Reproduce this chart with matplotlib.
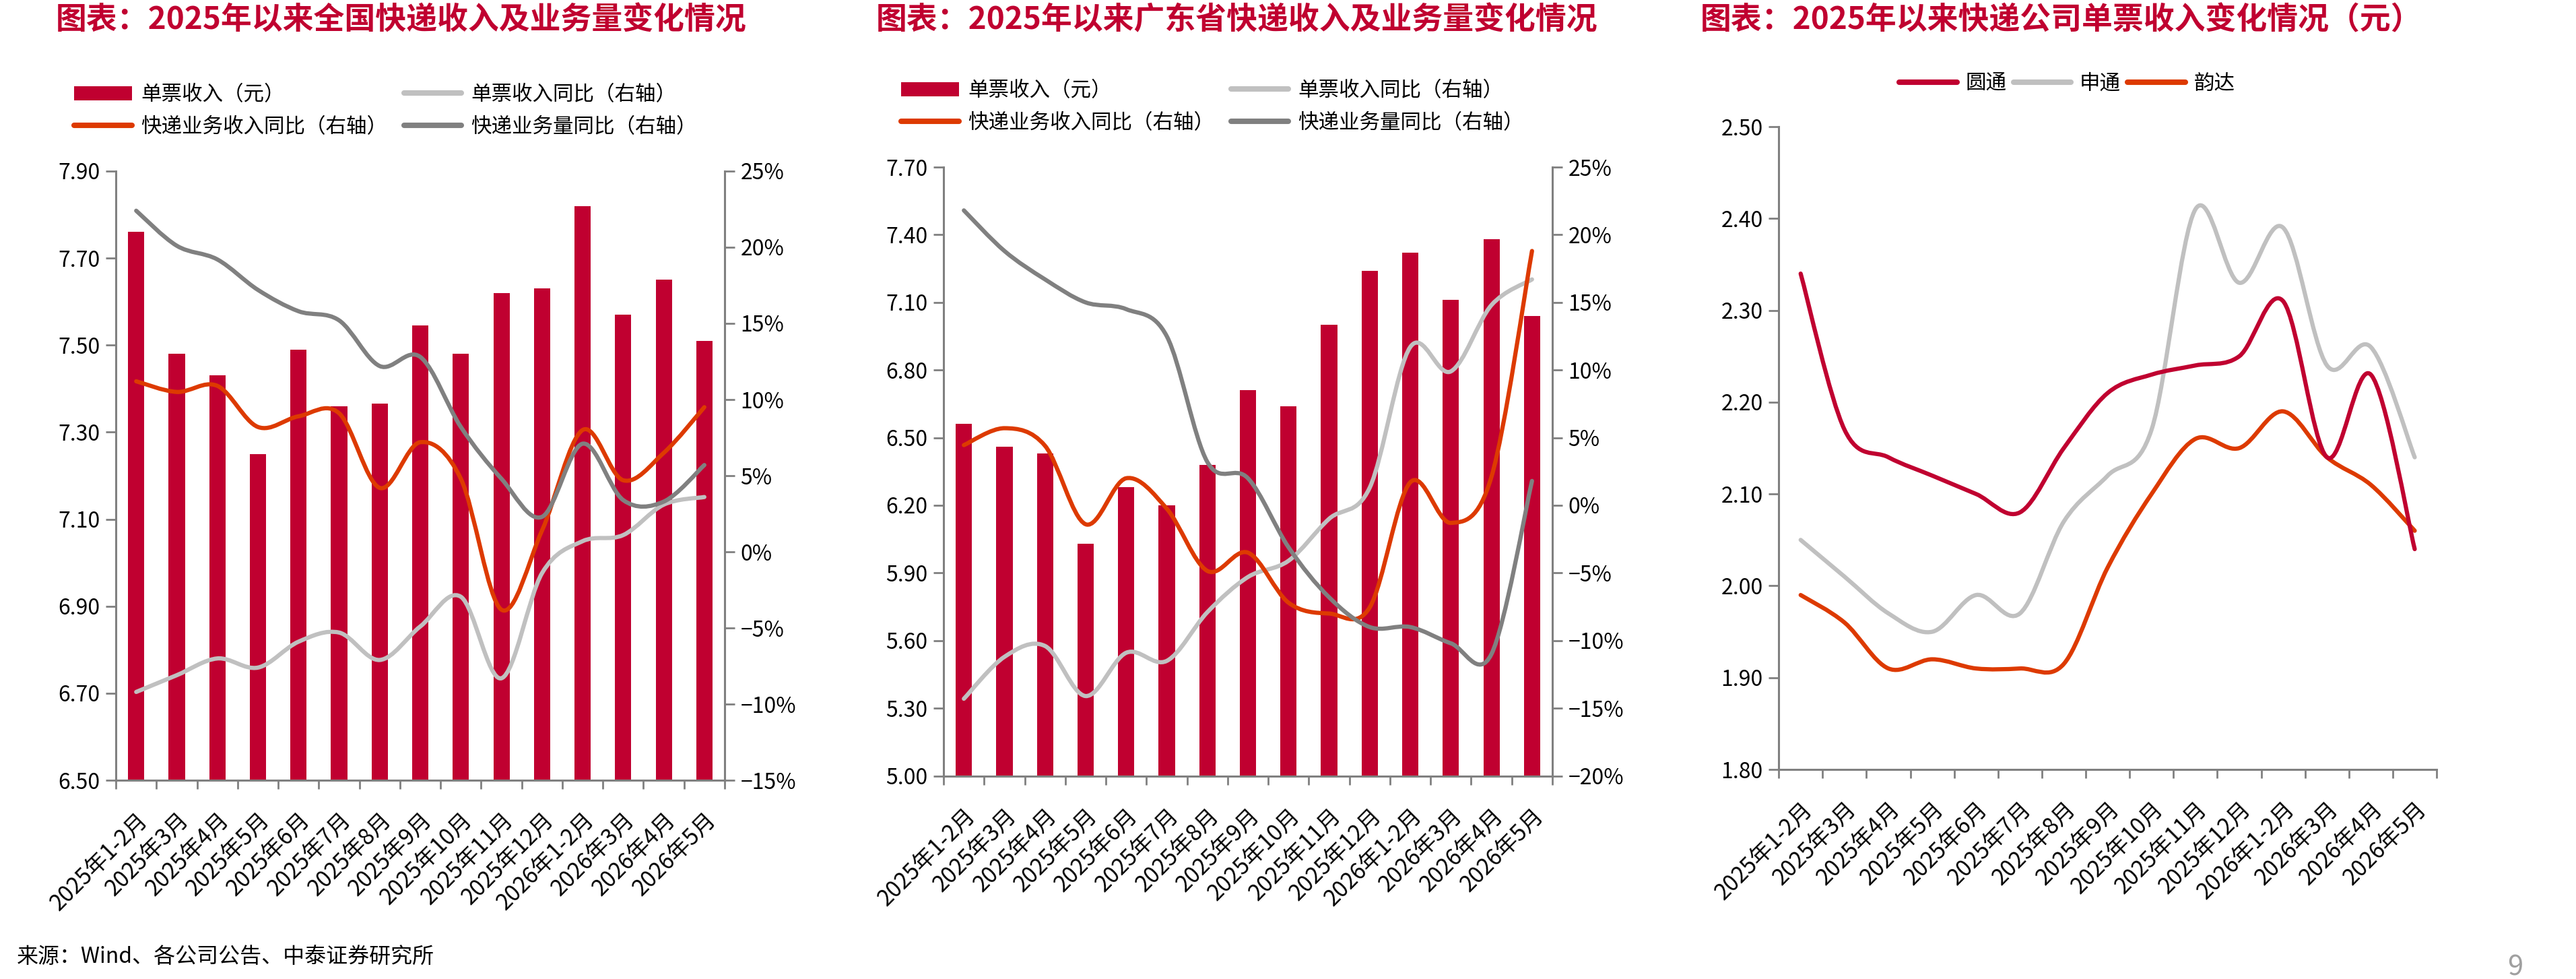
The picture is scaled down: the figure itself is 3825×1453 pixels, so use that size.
import matplotlib
matplotlib.use('Agg')
import matplotlib.pyplot as plt
import numpy as np
from matplotlib.path import Path
from matplotlib.patches import PathPatch, Patch
from matplotlib.lines import Line2D
from matplotlib.ticker import FuncFormatter, FixedLocator

plt.rcParams['font.family'] = ['Noto Sans CJK SC', 'DejaVu Sans']
plt.rcParams['axes.unicode_minus'] = True

# ---- data ----
months = ['2025年1-2月', '2025年3月', '2025年4月', '2025年5月', '2025年6月',
          '2025年7月', '2025年8月', '2025年9月', '2025年10月', '2025年11月',
          '2025年12月', '2026年1-2月', '2026年3月', '2026年4月', '2026年5月']

# 全国
nat_price = [7.76, 7.48, 7.43, 7.25, 7.49, 7.36, 7.365, 7.545, 7.48, 7.62, 7.63, 7.82, 7.57, 7.65, 7.51]
nat_price_yoy = [-9.2, -8.1, -7.0, -7.6, -5.9, -5.3, -7.1, -4.9, -2.95, -8.3, -1.4, 0.7, 1.1, 3.1, 3.6]
nat_rev_yoy = [11.2, 10.5, 10.9, 8.2, 8.9, 9.1, 4.2, 7.2, 4.8, -3.8, 1.4, 8.0, 4.7, 6.5, 9.5]
nat_vol_yoy = [22.4, 20.1, 19.2, 17.2, 15.8, 15.2, 12.2, 12.8, 8.2, 4.8, 2.3, 7.1, 3.4, 3.3, 5.7]

# 广东省
gd_price = [6.56, 6.46, 6.43, 6.03, 6.28, 6.20, 6.38, 6.71, 6.64, 7.00, 7.24, 7.32, 7.11, 7.38, 7.04]
gd_price_yoy = [-14.3, -11.2, -10.4, -14.1, -10.9, -11.5, -7.9, -5.3, -4.1, -1.0, 1.3, 11.7, 9.9, 14.8, 16.7]
gd_rev_yoy = [4.45, 5.7, 4.4, -1.4, 2.0, -0.25, -4.85, -3.5, -7.2, -8.0, -7.55, 1.7, -1.3, 2.1, 18.8]
gd_vol_yoy = [21.8, 18.8, 16.7, 15.0, 14.5, 12.5, 3.2, 2.0, -3.1, -6.8, -9.0, -9.0, -10.2, -11.0, 1.8]

# 快递公司单票收入
yto = [2.34, 2.17, 2.14, 2.12, 2.10, 2.08, 2.15, 2.21, 2.23, 2.24, 2.25, 2.31, 2.14, 2.23, 2.04]
sto = [2.05, 2.01, 1.97, 1.95, 1.99, 1.97, 2.07, 2.12, 2.17, 2.41, 2.33, 2.39, 2.24, 2.26, 2.14]
yunda = [1.99, 1.96, 1.91, 1.92, 1.91, 1.91, 1.915, 2.02, 2.10, 2.16, 2.15, 2.19, 2.14, 2.11, 2.06]

# ---- style ----
RED = '#C00030'
ORANGE = '#DD3A00'
LGRAY = '#C0C0C0'
DGRAY = '#808080'
AXC = '#808080'
TICK_FS = 23
XLAB_FS = 24
LEG_FS = 22
TITLE_FS = 33
LW = 4.5


def smooth_path(xs, ys):
    """Excel-like smoothed line as bezier path"""
    pts = np.column_stack([xs, ys]).astype(float)
    ext = np.vstack([pts[0], pts, pts[-1]])
    verts = [pts[0]]
    codes = [Path.MOVETO]
    for i in range(len(pts) - 1):
        p0, p1, p2, p3 = ext[i], ext[i + 1], ext[i + 2], ext[i + 3]
        verts += [p1 + (p2 - p0) / 6, p2 - (p3 - p1) / 6, p2]
        codes += [Path.CURVE4] * 3
    return Path(verts, codes)


def draw_smooth(ax, ys, color):
    xs = np.arange(len(ys))
    patch = PathPatch(smooth_path(xs, ys), facecolor='none', edgecolor=color,
                      linewidth=LW, capstyle='round', joinstyle='round')
    ax.add_patch(patch)


def setup_xaxis(ax, n):
    ax.set_xlim(-0.5, n - 0.5)
    ax.xaxis.set_major_locator(FixedLocator(np.arange(n + 1) - 0.5))
    ax.xaxis.set_major_formatter(FuncFormatter(lambda v, p: ''))
    ax.set_xticks(np.arange(n), minor=True)
    ax.set_xticklabels(months, minor=True, rotation=45, ha='right',
                       rotation_mode='anchor', fontsize=XLAB_FS)
    ax.tick_params(axis='x', which='major', direction='out', length=9.5,
                   width=2, color=AXC)
    ax.tick_params(axis='x', which='minor', length=0, pad=30)


def style_spines(ax, sides):
    for s in ['left', 'right', 'top', 'bottom']:
        ax.spines[s].set_visible(s in sides)
        ax.spines[s].set_color(AXC)
        ax.spines[s].set_linewidth(2.2)


def pct_fmt(v, p):
    return f'{v:.0f}%'.replace('-', '\u2212')


def bar_line_panel(rect, price, price_yoy, rev_yoy, vol_yoy, ylim, ystep, y2lim, title,
                   title_x, leg_xy):
    ax = fig.add_axes(rect)
    n = len(price)
    x = np.arange(n)
    ax.bar(x, price, width=0.4, color=RED, zorder=2)
    ax.set_ylim(*ylim)
    ax.set_yticks(np.arange(ylim[0], ylim[1] + ystep / 2, ystep))
    ax.yaxis.set_major_formatter(FuncFormatter(lambda v, p: f'{v:.2f}'))
    ax.tick_params(axis='y', direction='out', length=11, width=2, color=AXC,
                   labelsize=TICK_FS, pad=6)
    setup_xaxis(ax, n)
    style_spines(ax, ['left', 'bottom'])

    ax2 = ax.twinx()
    ax2.set_ylim(*y2lim)
    ax2.set_yticks(np.arange(y2lim[0], y2lim[1] + 2.5, 5))
    ax2.yaxis.set_major_formatter(FuncFormatter(pct_fmt))
    ax2.tick_params(axis='y', direction='out', length=11, width=2, color=AXC,
                    labelsize=TICK_FS, pad=6)
    style_spines(ax2, ['right'])
    ax2.set_xlim(-0.5, n - 0.5)

    draw_smooth(ax2, price_yoy, LGRAY)
    draw_smooth(ax2, rev_yoy, ORANGE)
    draw_smooth(ax2, vol_yoy, DGRAY)

    fig.text(title_x, 0.979, title, fontsize=TITLE_FS, fontweight='bold',
             color=RED, ha='left', va='center')

    handles = [Patch(facecolor=RED, label='单票收入（元）'),
               Line2D([], [], color=ORANGE, lw=LW * 1.3, solid_capstyle='round',
                      label='快递业务收入同比（右轴）'),
               Line2D([], [], color=LGRAY, lw=LW * 1.3, solid_capstyle='round',
                      label='单票收入同比（右轴）'),
               Line2D([], [], color=DGRAY, lw=LW * 1.3, solid_capstyle='round',
                      label='快递业务量同比（右轴）')]
    fig.legend(handles=handles, loc='upper left', bbox_to_anchor=leg_xy, ncol=2,
               frameon=False, fontsize=LEG_FS, borderpad=0, borderaxespad=0,
               handlelength=2.8, handleheight=0.7, handletextpad=0.45,
               columnspacing=0.8, labelspacing=0.55)
    return ax, ax2


fig = plt.figure(figsize=(38.25, 14.53), dpi=100)

# Panel 1: 全国
bar_line_panel([0.045, 0.203, 0.2363, 0.6222], nat_price, nat_price_yoy, nat_rev_yoy,
               nat_vol_yoy, (6.50, 7.90), 0.20, (-15, 25),
               '图表：2025年以来全国快递收入及业务量变化情况', 0.0217, (0.0288, 0.914))

# Panel 2: 广东省
bar_line_panel([0.3663, 0.2075, 0.2363, 0.6218], gd_price, gd_price_yoy, gd_rev_yoy,
               gd_vol_yoy, (5.00, 7.70), 0.30, (-20, 25),
               '图表：2025年以来广东省快递收入及业务量变化情况', 0.340, (0.3498, 0.918))

# Panel 3: 快递公司单票收入
ax3 = fig.add_axes([0.6905, 0.214, 0.2554, 0.6566])
ax3.set_ylim(1.80, 2.50)
ax3.set_yticks(np.arange(1.80, 2.51, 0.10))
ax3.yaxis.set_major_formatter(FuncFormatter(lambda v, p: f'{v:.2f}'))
ax3.tick_params(axis='y', direction='out', length=11, width=2, color=AXC,
                labelsize=TICK_FS, pad=6)
setup_xaxis(ax3, len(yto))
style_spines(ax3, ['left', 'bottom'])
draw_smooth(ax3, sto, LGRAY)
draw_smooth(ax3, yunda, ORANGE)
draw_smooth(ax3, yto, RED)
fig.text(0.660, 0.979, '图表：2025年以来快递公司单票收入变化情况（元）', fontsize=TITLE_FS,
         fontweight='bold', color=RED, ha='left', va='center')
h3 = [Line2D([], [], color=RED, lw=LW * 1.3, solid_capstyle='round', label='圆通'),
      Line2D([], [], color=LGRAY, lw=LW * 1.3, solid_capstyle='round', label='申通'),
      Line2D([], [], color=ORANGE, lw=LW * 1.3, solid_capstyle='round', label='韵达')]
fig.legend(handles=h3, loc='upper left', bbox_to_anchor=(0.7373, 0.925), ncol=3,
           frameon=False, fontsize=LEG_FS, borderpad=0, borderaxespad=0,
           handlelength=2.8, handletextpad=0.42, columnspacing=0.33)

# Source and page number
fig.text(0.0065, 0.022, '来源：Wind、各公司公告、中泰证券研究所', fontsize=23,
         ha='left', va='center', color='black')
fig.text(0.9763, 0.012, '9', fontsize=30, ha='center', va='center', color='#A0A0A0')

fig.savefig('out.png', dpi=100, facecolor='white')
